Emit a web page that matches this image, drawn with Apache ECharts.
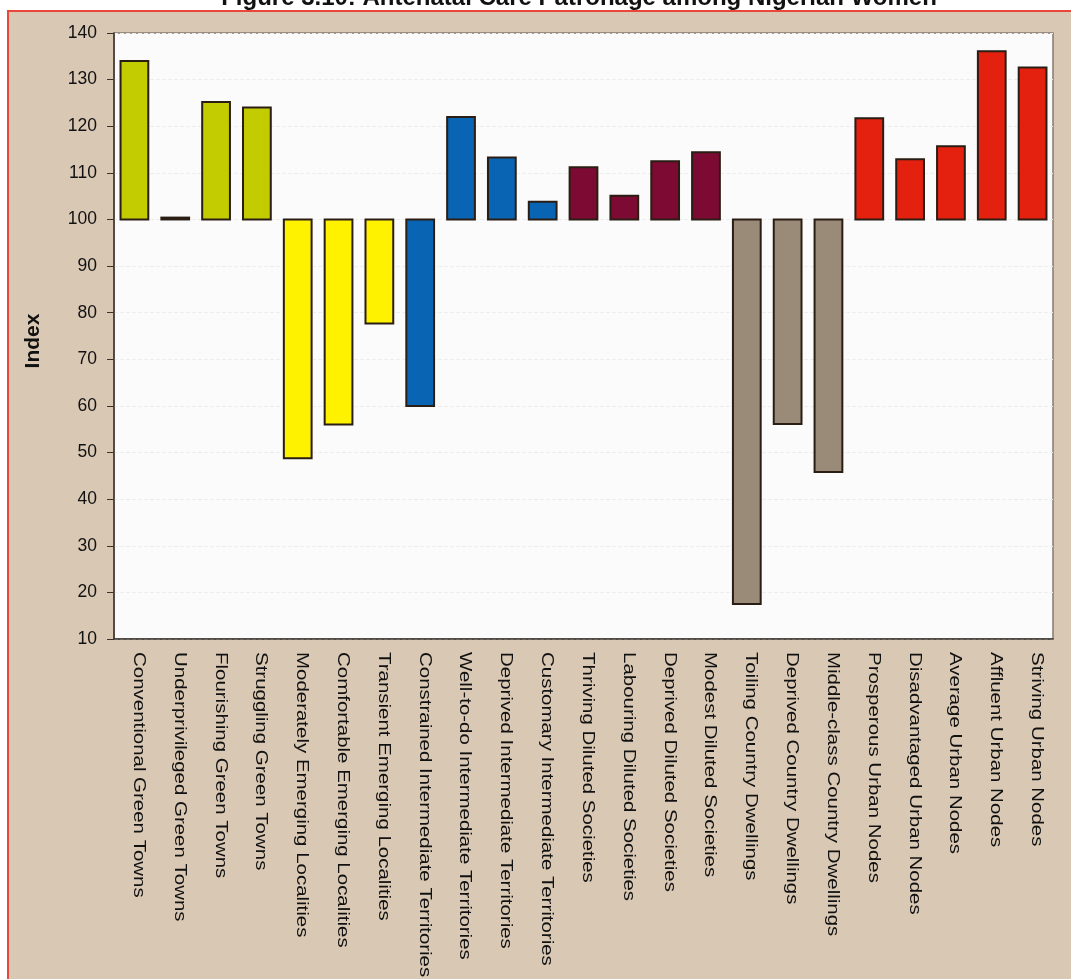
<!DOCTYPE html>
<html>
<head>
<meta charset="utf-8">
<title>Antenatal Care Patronage among Nigerian Women</title>
<script src="https://cdn.jsdelivr.net/npm/echarts@6/dist/echarts.min.js"></script>
<style>
  html, body { margin: 0; padding: 0; background: #ffffff; }
  #chart { width: 1071px; height: 979px; }
</style>
</head>
<body>
<div id="chart"></div>
<script>
// Segment names, in display order
const categories = [
  'Conventional Green Towns', 'Underprivileged Green Towns', 'Flourishing Green Towns', 'Struggling Green Towns',
  'Moderately Emerging Localities', 'Comfortable Emerging Localities', 'Transient Emerging Localities',
  'Constrained Intermediate Territories', 'Well-to-do Intermediate Territories', 'Deprived Intermediate Territories',
  'Customary Intermediate Territories', 'Thriving Diluted Societies', 'Labouring Diluted Societies',
  'Deprived Diluted Societies', 'Modest Diluted Societies', 'Toiling Country Dwellings',
  'Deprived Country Dwellings', 'Middle-class Country Dwellings', 'Prosperous Urban Nodes',
  'Disadvantaged Urban Nodes', 'Average Urban Nodes', 'Affluent Urban Nodes', 'Striving Urban Nodes'
];

// Patronage index per segment (100 = national average)
const indexValues = [
  134, 100.4, 125.2, 124,
  48.8, 56, 77.7,
  60, 122, 113.3,
  103.8, 111.2, 105.1,
  112.5, 114.4, 17.5,
  56.1, 45.8, 121.7,
  112.9, 115.7, 136.1, 132.6
];

// Segment family of each bar (index into familyColors)
const family = [0, 0, 0, 0, 1, 1, 1, 2, 2, 2, 2, 3, 3, 3, 3, 4, 4, 4, 5, 5, 5, 5, 5];
const familyColors = ['#c2cc00', '#fff200', '#0a64b4', '#7d0a32', '#9a8b79', '#e4200f'];

const baseline = 100;
const yTicks = { min: 10, max: 140, interval: 10 };

const chart = echarts.init(document.getElementById('chart'));

const barData = indexValues.map((v, i) => [i, v, family[i]]);
const labelData = categories.map((c, i) => [i, yTicks.min]);

chart.setOption({
  backgroundColor: '#ffffff',
  animation: false,
  textStyle: { fontFamily: 'Liberation Sans, Arial, sans-serif' },
  title: {
    text: 'Figure 3.10: Antenatal Care Patronage among Nigerian Women',
    left: 574,
    textAlign: 'center',
    top: -19,
    textStyle: { fontSize: 24, fontWeight: 'bold', color: '#111' }
  },
  graphic: [
    {
      type: 'rect',
      z: -10,
      shape: { x: 8, y: 11, width: 1080, height: 990 },
      style: { fill: '#d9c8b4', stroke: '#e8483a', lineWidth: 2 }
    },
    {
      type: 'text',
      x: 33, y: 341,
      rotation: Math.PI / 2,
      style: {
        text: 'Index',
        font: 'bold 21px Liberation Sans, Arial, sans-serif',
        fill: '#111',
        align: 'center',
        verticalAlign: 'middle'
      }
    }
  ],
  grid: {
    left: 114, right: 18, top: 33, bottom: 340,
    show: true,
    backgroundColor: '#fbfbfb',
    borderColor: '#85796e',
    borderWidth: 1.5
  },
  xAxis: {
    type: 'category',
    data: categories,
    axisTick: { show: false },
    axisLine: { lineStyle: { color: '#3a332d', width: 1.5 } },
    axisLabel: { show: false }
  },
  yAxis: {
    type: 'value',
    min: yTicks.min,
    max: yTicks.max,
    interval: yTicks.interval,
    axisLine: { show: true, lineStyle: { color: '#3a332d', width: 1.5 } },
    axisTick: { show: true, length: 7, lineStyle: { color: '#3a332d' } },
    axisLabel: { fontSize: 17.5, color: '#111', margin: 17 },
    splitLine: { show: true, lineStyle: { color: '#eeeeee', type: 'dashed' } }
  },
  series: [
    {
      // bars hanging from the 100 baseline
      type: 'custom',
      data: barData,
      encode: { x: 0, y: 1 },
      renderItem: function (params, api) {
        const idx = api.value(0);
        const val = api.value(1);
        const p0 = api.coord([idx, baseline]);
        const p1 = api.coord([idx, val]);
        const w = api.size([1, 0])[0] * 0.68;
        return {
          type: 'rect',
          shape: {
            x: p0[0] - w / 2,
            y: Math.min(p0[1], p1[1]),
            width: w,
            height: Math.max(Math.abs(p1[1] - p0[1]), 1)
          },
          style: {
            fill: familyColors[api.value(2)],
            stroke: '#2a1d14',
            lineWidth: 2
          }
        };
      }
    },
    {
      // category names, set vertically under the axis in a tall condensed face
      type: 'custom',
      data: labelData,
      encode: { x: 0, y: 1 },
      silent: true,
      clip: false,
      renderItem: function (params, api) {
        const idx = api.value(0);
        const p = api.coord([idx, api.value(1)]);
        return {
          type: 'text',
          x: p[0] + 4,
          y: p[1] + 13,
          rotation: -Math.PI / 2,
          scaleX: 1.24,
          style: {
            text: categories[idx],
            font: '16.5px Liberation Sans, Arial, sans-serif',
            fill: '#111',
            align: 'left',
            verticalAlign: 'middle'
          }
        };
      }
    }
  ]
});
</script>
</body>
</html>
